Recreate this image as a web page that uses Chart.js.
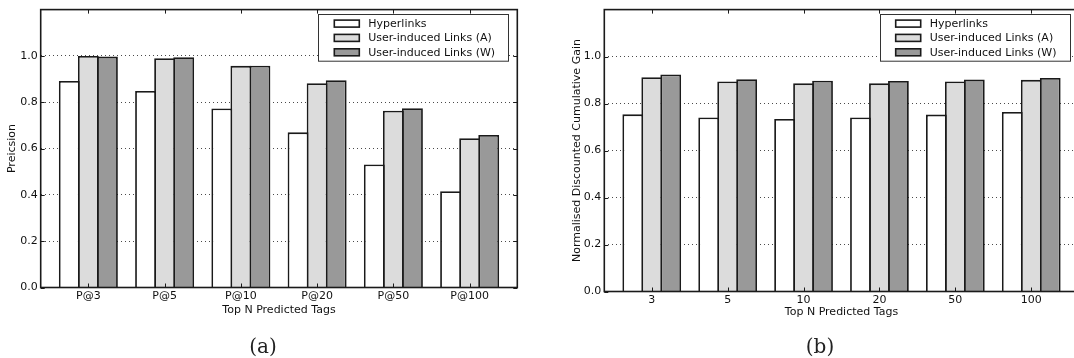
<!DOCTYPE html>
<html>
<head>
<meta charset="utf-8">
<script src="https://cdn.jsdelivr.net/npm/chart.js@4.4.1/dist/chart.umd.min.js"></script>
<style>
  html, body { margin: 0; padding: 0; background: #fff; overflow: hidden; }
  body { width: 1074px; height: 358px; position: relative; }
  canvas { position: absolute; top: 0; display: block; }
  .cap { position: absolute; font-family: "DejaVu Serif", serif; font-size: 20px; color: #222;
         transform: translate(-50%, -50%); white-space: nowrap; }
</style>
</head>
<body>
<canvas id="precChart" width="537" height="358" style="left:0px"></canvas>
<canvas id="ndcgChart" width="545" height="358" style="left:537px"></canvas>
<div class="cap" style="left:263px; top:346px">(a)</div>
<div class="cap" style="left:820px; top:346px">(b)</div>

<script>
// ---- data ----
const seriesNames = ['Hyperlinks', 'User-induced Links (A)', 'User-induced Links (W)'];

const precLabels = ['P@3', 'P@5', 'P@10', 'P@20', 'P@50', 'P@100'];
const precHyper  = [0.892, 0.849, 0.773, 0.670, 0.531, 0.416];
const precUserA  = [1.000, 0.990, 0.957, 0.882, 0.763, 0.645];
const precUserW  = [0.997, 0.994, 0.958, 0.895, 0.774, 0.659];

const ndcgLabels = ['3', '5', '10', '20', '50', '100'];
const ndcgHyper  = [0.754, 0.741, 0.734, 0.741, 0.753, 0.764];
const ndcgUserA  = [0.912, 0.894, 0.886, 0.886, 0.894, 0.901];
const ndcgUserW  = [0.924, 0.904, 0.897, 0.896, 0.902, 0.909];

const yTickValues = [0, 0.2, 0.4, 0.6, 0.8, 1.0];

// ---- style ----
const FILLS = ['#ffffff', '#dcdcdc', '#999999'];
const EDGE = '#1a1a1a';
const FONT = '"DejaVu Sans", sans-serif';
const FSIZE = 11;

// frame, inward ticks and boxed legend like matplotlib
const framePlugin = {
    id: 'mplFrame',
    afterDatasetsDraw(chart) {
        const ctx = chart.ctx, a = chart.chartArea;
        const xs = chart.scales.x, ys = chart.scales.y;
        ctx.save();
        ctx.strokeStyle = EDGE;
        ctx.lineWidth = 1;
        ctx.beginPath();
        xs.ticks.forEach(t => {
            let px = Math.round(xs.getPixelForValue(t.value)) + 0.5;
            ctx.moveTo(px, a.top); ctx.lineTo(px, a.top + 4);
            ctx.moveTo(px, a.bottom); ctx.lineTo(px, a.bottom - 4);
        });
        ys.ticks.forEach(t => {
            let py = Math.round(ys.getPixelForValue(t.value)) + 0.5;
            ctx.moveTo(a.left, py); ctx.lineTo(a.left + 4, py);
            ctx.moveTo(a.right, py); ctx.lineTo(a.right - 4, py);
        });
        ctx.stroke();
        ctx.lineWidth = 1.6;
        ctx.strokeRect(a.left, a.top, a.right - a.left, a.bottom - a.top);

        // legend
        let bx = a.right - 9 - 190, by = a.top + 4.7;
        ctx.fillStyle = '#fff';
        ctx.fillRect(bx, by, 190, 46.7);
        ctx.strokeStyle = '#333';
        ctx.lineWidth = 1;
        ctx.strokeRect(Math.round(bx) + 0.5, Math.round(by) + 0.5, 190, 46.7);
        const rows = [9.3, 23.6, 38];
        chart.data.datasets.forEach((ds, i) => {
            let cy = by + rows[i];
            ctx.fillStyle = ds.backgroundColor;
            ctx.fillRect(bx + 16, cy - 3.5, 25, 7);
            ctx.strokeStyle = EDGE;
            ctx.lineWidth = 1.6;
            ctx.strokeRect(bx + 16, cy - 3.5, 25, 7);
            ctx.fillStyle = '#111';
            ctx.font = FSIZE + 'px ' + FONT;
            ctx.textBaseline = 'middle';
            ctx.textAlign = 'left';
            ctx.fillText(ds.label, bx + 50, cy + 0.5);
        });
        ctx.restore();
    }
};

function makePanel(canvasId, labels, values, yTitle, g) {
    let datasets = values.map((vals, i) => ({
        label: seriesNames[i],
        data: vals.map((v, k) => ({ x: k, y: v })),
        backgroundColor: FILLS[i],
        borderColor: EDGE,
        borderWidth: 1.8,
        categoryPercentage: 0.75,
        // slight overlap so neighbouring bars share one edge line
        barPercentage: 1.095
    }));

    return new Chart(document.getElementById(canvasId), {
        type: 'bar',
        data: { datasets: datasets },
        plugins: [framePlugin],
        options: {
            responsive: false,
            animation: false,
            layout: { padding: { left: 0, top: 9.3, right: g.padRight, bottom: 0 } },
            plugins: { legend: { display: false }, tooltip: { enabled: false } },
            scales: {
                x: {
                    type: 'linear',
                    min: -0.625,
                    max: 5.625,
                    offset: false,
                    afterBuildTicks: s => { s.ticks = labels.map((_, k) => ({ value: k })); },
                    afterFit: s => { s.height = g.xHeight; },
                    grid: { display: false, drawTicks: false },
                    border: { display: false },
                    ticks: {
                        autoSkip: false, maxRotation: 0, padding: 2,
                        color: '#111', font: { family: FONT, size: FSIZE },
                        callback: v => labels[v]
                    },
                    title: {
                        display: true, text: 'Top N Predicted Tags', color: '#111',
                        font: { family: FONT, size: FSIZE },
                        padding: { top: 0, bottom: g.xTitlePad }
                    }
                },
                y: {
                    min: 0,
                    max: 1.2,
                    afterBuildTicks: s => { s.ticks = yTickValues.map(v => ({ value: v })); },
                    afterFit: s => { s.width = g.yWidth; },
                    grid: {
                        drawTicks: false,
                        lineWidth: 1,
                        color: c => c.tick && c.tick.value === 0 ? 'rgba(0,0,0,0)' : '#4a4a4a'
                    },
                    border: { display: false, dash: [1, 3] },
                    ticks: {
                        padding: 3, color: '#111', font: { family: FONT, size: FSIZE },
                        callback: v => v.toFixed(1)
                    },
                    title: {
                        display: true, text: yTitle, color: '#111',
                        font: { family: FONT, size: FSIZE },
                        padding: { top: g.yTitlePad, bottom: 0 }
                    }
                }
            }
        }
    });
}

makePanel('precChart', precLabels, [precHyper, precUserA, precUserW], 'Preicsion',
    { yWidth: 40.7, padRight: 19.7, xHeight: 70.5, xTitlePad: 41, yTitlePad: 5.4 });

makePanel('ndcgChart', ndcgLabels, [ndcgHyper, ndcgUserA, ndcgUserW], 'Normalised Discounted Cumulative Gain',
    { yWidth: 67.3, padRight: 3.3, xHeight: 66.5, xTitlePad: 39.5, yTitlePad: 33.1 });
</script>
</body>
</html>
